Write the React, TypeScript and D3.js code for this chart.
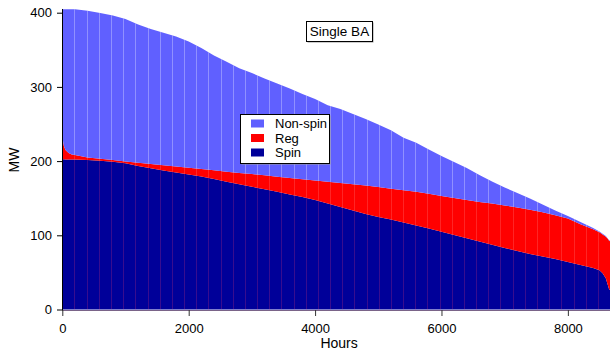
import React, { useEffect, useRef } from "react";
import * as d3 from "d3";

// hours of the year (sorted duration curve) and reserve requirement per type, MW
const hours = [
  0, 25, 50, 100, 150, 200, 400, 600, 800, 1000, 1200, 1400, 1600, 1800, 2000,
  2200, 2400, 2600, 2800, 3000, 3200, 3400, 3600, 3800, 4000, 4200, 4400, 4600,
  4800, 5000, 5200, 5400, 5600, 5800, 6000, 6200, 6400, 6600, 6800, 7000, 7200,
  7400, 7600, 7800, 8000, 8200, 8400, 8500, 8550, 8600, 8625, 8650, 8700,
];
const spin = [
  202.4, 202.4, 202.3, 202.3, 202.2, 202.2, 201.5, 200.4, 199.1, 197.2, 193.5,
  190.5, 187.3, 184.6, 181.9, 179.2, 175.9, 172.2, 168.7, 165.4, 162.1, 158.6,
  155.1, 151.6, 147.6, 142.9, 138.1, 133.4, 128.6, 124.7, 121.3, 117.3, 113.3,
  109.0, 104.7, 100.4, 96.0, 91.6, 87.3, 83.0, 78.8, 74.8, 71.4, 68.1, 64.0,
  60.0, 56.0, 53.0, 49.0, 42.0, 35.0, 28.0, 22.0,
];
const reg = [
  30.5, 18.0, 12.7, 8.6, 6.7, 6.0, 3.4, 2.7, 2.4, 2.3, 4.2, 5.6, 7.0, 8.1, 9.1,
  10.2, 11.7, 13.5, 15.3, 17.2, 18.8, 20.2, 22.1, 24.0, 26.3, 29.3, 32.4, 35.3,
  38.5, 40.4, 41.4, 43.5, 45.3, 47.1, 48.3, 49.9, 51.6, 53.3, 55.6, 57.2, 58.7,
  59.7, 59.6, 58.9, 58.5, 55.0, 52.0, 51.0, 52.0, 56.0, 61.0, 65.0, 68.0,
];
const nonSpin = [
  171.7, 184.2, 189.6, 193.7, 195.7, 196.4, 197.7, 196.5, 194.7, 192.1, 186.3,
  181.9, 178.7, 175.3, 170.2, 163.0, 154.7, 148.3, 141.0, 136.1, 130.4, 125.8,
  120.6, 114.8, 109.8, 103.0, 99.7, 94.8, 89.6, 84.2, 78.8, 70.7, 66.1, 59.5,
  53.9, 48.5, 43.1, 36.4, 29.6, 24.2, 19.5, 15.1, 10.5, 6.4, 3.5, 3.0, 2.0, 1.0,
  1.0, 1.0, 0.5, 0.5, 0.5,
];

const seriesKeys = ["spin", "reg", "nonSpin"];
const seriesColors = ["#000099", "#ff0000", "#6060ff"];
const seamColors = [
  "rgba(255,60,110,0.22)",
  "rgba(255,170,170,0.22)",
  "rgba(255,255,255,0.3)",
];
const legendNames = ["Non-spin", "Reg", "Spin"];
const legendColors = ["#6060ff", "#ff0000", "#000099"];
const xTicks = [0, 2000, 4000, 6000, 8000];
const yTicks = [0, 100, 200, 300, 400];
const title = "Single BA";

const font = "'Liberation Sans', Arial, Helvetica, sans-serif";

const App = () => {
  const ref = useRef<SVGSVGElement>(null);

  useEffect(() => {
    const svg = d3.select(ref.current);
    svg.selectAll("*").remove();

    const x = d3.scaleLinear().domain([0, 8760]).range([62.3, 615.9]);
    const y = d3.scaleLinear().domain([0, 400]).range([309.5, 12.7]);

    const rows = hours.map((h, i) => ({
      hour: h,
      spin: spin[i],
      reg: reg[i],
      nonSpin: nonSpin[i],
    }));
    const last = rows[rows.length - 1];
    rows.push({ ...last, hour: 8760 });

    const stacked = d3.stack<any>().keys(seriesKeys)(rows);

    const area = d3
      .area<any>()
      .x((d) => x(d.data.hour))
      .y0((d) => y(d[0]))
      .y1((d) => y(d[1]));

    const defs = svg.append("defs");
    stacked.forEach((layer, i) => {
      defs
        .append("clipPath")
        .attr("id", "clip-" + i)
        .append("path")
        .attr("d", area(layer));
    });

    stacked.forEach((layer, i) => {
      svg
        .append("path")
        .attr("d", area(layer))
        .attr("fill", seriesColors[i]);
    });

    // faint seams between the bar blocks
    const seamHours = d3.range(192.6, 8760, 192.6);
    stacked.forEach((layer, i) => {
      svg
        .append("g")
        .attr("clip-path", "url(#clip-" + i + ")")
        .selectAll("line")
        .data(seamHours)
        .enter()
        .append("line")
        .attr("x1", (d) => Math.round(x(d)) + 0.5)
        .attr("x2", (d) => Math.round(x(d)) + 0.5)
        .attr("y1", 0)
        .attr("y2", 320)
        .attr("stroke", seamColors[i])
        .attr("stroke-width", 1);
    });

    // x axis
    const xAxis = svg
      .append("g")
      .attr("transform", "translate(0,310)")
      .call(
        d3
          .axisBottom(x)
          .tickValues(xTicks)
          .tickSize(6)
          .tickSizeOuter(0)
          .tickPadding(8)
          .tickFormat(d3.format("d"))
      );
    xAxis.select(".domain").attr("stroke", "#7a6488");
    xAxis.selectAll(".tick line").attr("stroke", "#333");
    xAxis
      .selectAll("text")
      .attr("font-family", font)
      .attr("font-size", 13)
      .attr("fill", "#000");

    // y axis
    const yAxis = svg
      .append("g")
      .attr("transform", "translate(62,0)")
      .call(
        d3
          .axisLeft(y)
          .tickValues(yTicks)
          .tickSize(5)
          .tickPadding(5)
          .tickFormat(d3.format("d"))
      );
    yAxis.select(".domain").remove();
    yAxis.selectAll(".tick line").attr("stroke", "#000");
    yAxis
      .selectAll("text")
      .attr("font-family", font)
      .attr("font-size", 13)
      .attr("fill", "#000");
    svg
      .append("line")
      .attr("x1", 62.5)
      .attr("x2", 62.5)
      .attr("y1", y(405))
      .attr("y2", 310.5)
      .attr("stroke", "#000");

    svg
      .append("text")
      .attr("x", (x(0) + x(8760)) / 2)
      .attr("y", 348)
      .attr("text-anchor", "middle")
      .attr("font-family", font)
      .attr("font-size", 14)
      .text("Hours");

    svg
      .append("text")
      .attr("transform", "translate(18.5,160) rotate(-90)")
      .attr("text-anchor", "middle")
      .attr("font-family", font)
      .attr("font-size", 14)
      .text("MW");

    // title box
    svg
      .append("rect")
      .attr("x", 307.5)
      .attr("y", 22.5)
      .attr("width", 66)
      .attr("height", 20)
      .attr("fill", "#999");
    svg
      .append("rect")
      .attr("x", 306.5)
      .attr("y", 21.5)
      .attr("width", 66)
      .attr("height", 20)
      .attr("fill", "#fff")
      .attr("stroke", "#000");
    svg
      .append("text")
      .attr("x", 339.5)
      .attr("y", 36)
      .attr("text-anchor", "middle")
      .attr("font-family", font)
      .attr("font-size", 13.5)
      .text(title);

    // legend
    const lg = svg.append("g");
    lg.append("rect")
      .attr("x", 241.5)
      .attr("y", 115.5)
      .attr("width", 89)
      .attr("height", 49)
      .attr("fill", "#999");
    lg.append("rect")
      .attr("x", 240.5)
      .attr("y", 114.5)
      .attr("width", 89)
      .attr("height", 49)
      .attr("fill", "#fff")
      .attr("stroke", "#000");
    legendNames.forEach((name, i) => {
      lg.append("rect")
        .attr("x", 251)
        .attr("y", 119.5 + i * 14.5)
        .attr("width", 13)
        .attr("height", 8)
        .attr("fill", legendColors[i]);
      lg.append("text")
        .attr("x", 275)
        .attr("y", 128 + i * 14.5)
        .attr("font-family", font)
        .attr("font-size", 13)
        .text(name);
    });
  }, []);

  return (
    <svg
      ref={ref}
      width={610}
      height={352}
      style={{ position: "absolute", left: 0, top: 0, background: "#fff" }}
    />
  );
};

export default App;
